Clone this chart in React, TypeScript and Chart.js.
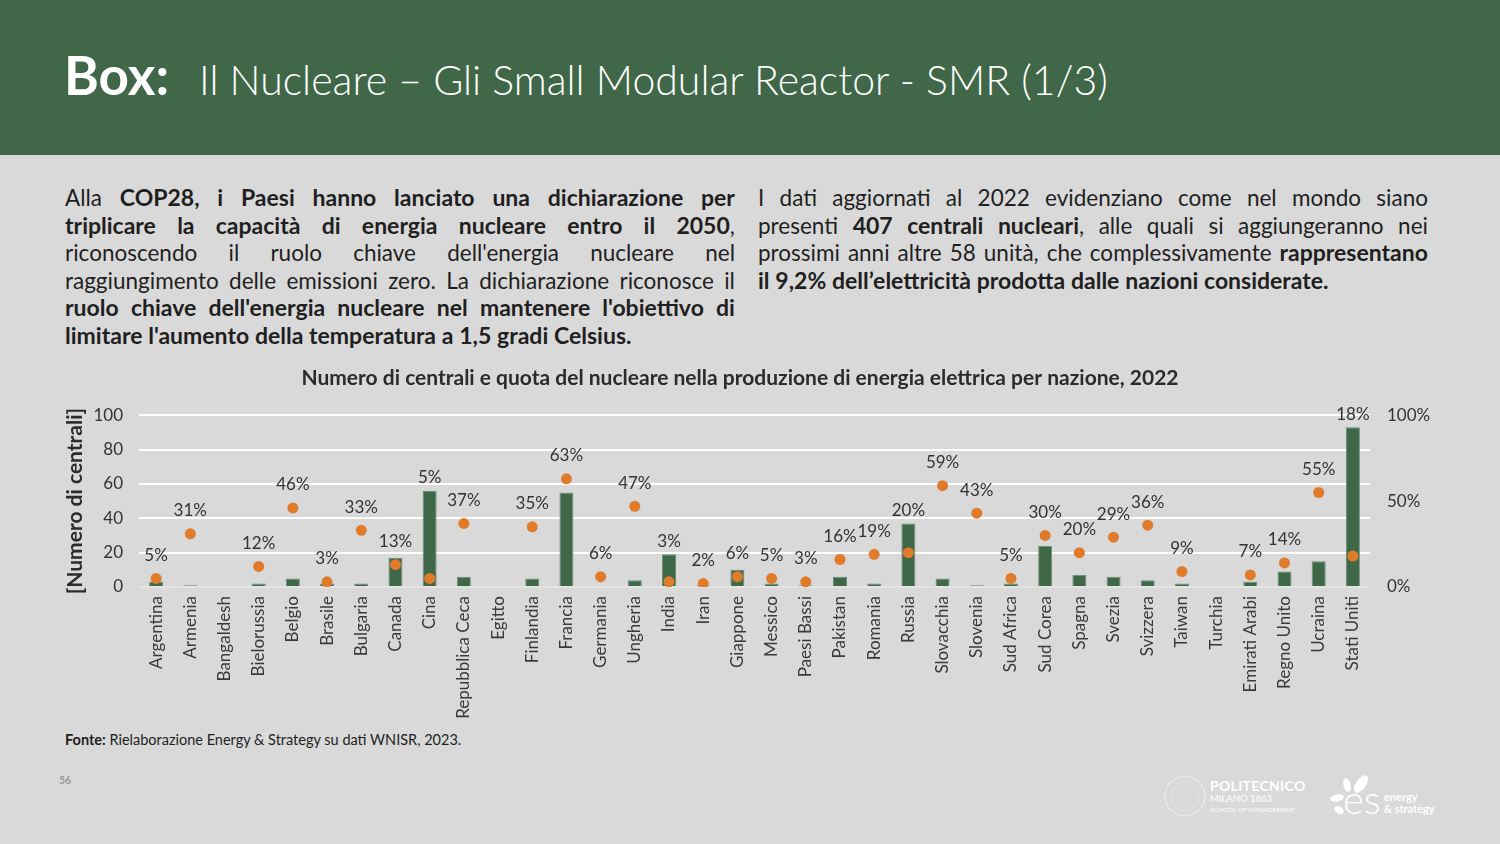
import React, { useEffect, useRef } from "react";
import { Chart, registerables } from "chart.js";

Chart.register(...registerables);

const countries: string[] = [
  "Argentina", "Armenia", "Bangaldesh", "Bielorussia", "Belgio", "Brasile", "Bulgaria", "Canada", "Cina",
  "Repubblica Ceca", "Egitto", "Finlandia", "Francia", "Germania", "Ungheria", "India", "Iran", "Giappone",
  "Messico", "Paesi Bassi", "Pakistan", "Romania", "Russia", "Slovacchia", "Slovenia", "Sud Africa",
  "Sud Corea", "Spagna", "Svezia", "Svizzera", "Taiwan", "Turchia", "Emirati Arabi", "Regno Unito",
  "Ucraina", "Stati Uniti",
];

const reactors: number[] = [
  3, 1, 0, 2, 5, 2, 2, 17, 56,
  6, 0, 5, 55, 0, 4, 19, 1, 10,
  2, 1, 6, 2, 37, 5, 1, 2,
  24, 7, 6, 4, 2, 0, 3, 9,
  15, 93,
];

const nuclearShare: (number | null)[] = [
  5, 31, null, 12, 46, 3, 33, 13, 5,
  37, null, 35, 63, 6, 47, 3, 2, 6,
  5, 3, 16, 19, 20, 59, 43, 5,
  30, 20, 29, 36, 9, null, 7, 14,
  55, 18,
];

const leftTicks: number[] = [0, 20, 40, 60, 80, 100];
const rightTicks: number[] = [0, 50, 100];

// "*" toggles bold
const leftLines: string[] = [
  "Alla *COP28, i Paesi hanno lanciato una dichiarazione per*",
  "*triplicare la capacità di energia nucleare entro il 2050*,",
  "riconoscendo il ruolo chiave dell'energia nucleare nel",
  "raggiungimento delle emissioni zero. La dichiarazione riconosce il",
  "*ruolo chiave dell'energia nucleare nel mantenere l'obiettivo di*",
  "*limitare l'aumento della temperatura a 1,5 gradi Celsius.*",
];
const rightLines: string[] = [
  "I dati aggiornati al 2022 evidenziano come nel mondo siano",
  "presenti *407 centrali nucleari*, alle quali si aggiungeranno nei",
  "prossimi anni altre 58 unità, che complessivamente *rappresentano*",
  "*il 9,2% dell’elettricità prodotta dalle nazioni considerate.*",
];

const GREEN = "#3f6849";
const ORANGE = "#e07b2c";
const TEXT = "#2b2b2b";
const FONT = "Lato, 'Open Sans', sans-serif";

const shareLabels = {
  id: "shareLabels",
  afterDatasetsDraw(chart: any) {
    const ctx = chart.ctx;
    const barMeta = chart.getDatasetMeta(0);
    const dotMeta = chart.getDatasetMeta(1);
    ctx.save();
    ctx.font = `17px ${FONT}`;
    ctx.fillStyle = "#333333";
    ctx.textAlign = "center";
    ctx.textBaseline = "middle";
    nuclearShare.forEach((v, i) => {
      if (v == null) return;
      const pt = dotMeta.data[i];
      const bar = barMeta.data[i];
      let y = pt.y - 23;
      if (reactors[i] > v) y = Math.min(y, bar.y - 13);
      ctx.fillText(`${v}%`, pt.x, y);
    });
    ctx.restore();
  },
};

function ChartBox() {
  const ref = useRef<HTMLCanvasElement | null>(null);
  useEffect(() => {
    if (!ref.current) return;
    const chart = new Chart(ref.current, {
      type: "bar",
      data: {
        labels: countries,
        datasets: [
          {
            type: "bar",
            label: "Numero di centrali",
            data: reactors,
            backgroundColor: GREEN,
            borderColor: "#6e8e75",
            borderWidth: 1,
            barPercentage: 0.41,
            categoryPercentage: 1,
            yAxisID: "y",
            order: 2,
          },
          {
            type: "line",
            label: "Quota nucleare",
            data: nuclearShare,
            showLine: false,
            pointRadius: 5.5,
            pointBackgroundColor: ORANGE,
            pointBorderWidth: 0,
            borderColor: ORANGE,
            yAxisID: "y1",
            order: 1,
          } as any,
        ],
      },
      options: {
        animation: false,
        responsive: true,
        maintainAspectRatio: false,
        layout: { padding: 0 },
        plugins: {
          legend: { display: false },
          tooltip: { enabled: false },
          title: {
            display: true,
            text: "Numero di centrali e quota del nucleare nella produzione di energia elettrica per nazione, 2022",
            color: TEXT,
            font: { family: FONT, size: 21, weight: "bold" },
            padding: { top: 4, bottom: 24 },
          },
        },
        scales: {
          x: {
            grid: { display: false, drawTicks: false },
            border: { display: false },
            ticks: {
              color: "#3a3a3a",
              font: { family: FONT, size: 17 },
              minRotation: 90,
              maxRotation: 90,
              autoSkip: false,
              padding: 9,
            },
            afterFit: (s: any) => { s.height = 137; },
          },
          y: {
            position: "left",
            min: 0,
            max: 100,
            afterBuildTicks: (s: any) => { s.ticks = leftTicks.map((v) => ({ value: v })); },
            grid: {
              color: (c: any) => (c.tick && c.tick.value === 0 ? "#e4e4e4" : "#ffffff"),
              lineWidth: 2,
              drawTicks: false,
            },
            border: { display: false },
            ticks: { color: "#333333", font: { family: FONT, size: 17 }, padding: 16 },
            title: {
              display: true,
              text: "[Numero di centrali]",
              color: TEXT,
              font: { family: FONT, size: 21, weight: "bold" },
              padding: { top: 18, bottom: 0 },
            },
            afterFit: (s: any) => { s.width = 94; },
          },
          y1: {
            position: "right",
            min: 0,
            max: 100,
            afterBuildTicks: (s: any) => { s.ticks = rightTicks.map((v) => ({ value: v })); },
            grid: { display: false, drawTicks: false },
            border: { display: false },
            ticks: {
              color: "#333333",
              font: { family: FONT, size: 17 },
              padding: 17,
              callback: (v: any) => `${v}%`,
            },
            afterFit: (s: any) => { s.width = 65; },
          },
        },
      },
      plugins: [shareLabels],
    });
    return () => chart.destroy();
  }, []);
  return <canvas ref={ref} />;
}

function parseWords(line: string) {
  let bold = false;
  return line.split(" ").filter(Boolean).map((word) => {
    const parts = word.split("*");
    const segs: { t: string; b: boolean }[] = [];
    parts.forEach((p, i) => {
      if (i > 0) bold = !bold;
      if (p) segs.push({ t: p, b: bold });
    });
    return segs;
  });
}

function TextLine({ line, last }: { line: string; last: boolean }) {
  const words = parseWords(line);
  const render = (segs: { t: string; b: boolean }[], k: number, trailing: boolean) => (
    <span key={k}>
      {segs.map((s, j) => (
        <span key={j} style={s.b ? { fontWeight: 700, fontSize: 23 } : { fontWeight: 400 }}>{s.t}</span>
      ))}
      {trailing ? " " : ""}
    </span>
  );
  if (last) {
    return (
      <div style={{ height: 27.5, whiteSpace: "nowrap" }}>
        {words.map((w, i) => render(w, i, i < words.length - 1))}
      </div>
    );
  }
  return (
    <div style={{ height: 27.5, display: "flex", justifyContent: "space-between", alignItems: "baseline", whiteSpace: "nowrap" }}>
      {words.map((w, i) => render(w, i, false))}
    </div>
  );
}

function Paragraph({ lines, left }: { lines: string[]; left: number }) {
  return (
    <div style={{ position: "absolute", left, top: 184, width: 670, fontSize: 22.5, lineHeight: "27.5px", color: "#1f1f1f" }}>
      {lines.map((l, i) => (
        <TextLine key={i} line={l} last={i === lines.length - 1} />
      ))}
    </div>
  );
}

function Logos() {
  return (
    <div style={{ position: "absolute", left: 1163, top: 773, width: 290, height: 50 }}>
      <svg width={46} height={46} style={{ position: "absolute", left: 0, top: 1 }}>
        <circle cx={22} cy={22} r={20} fill="none" stroke="#ececec" strokeWidth={1.2} />
        <circle cx={22} cy={22} r={14} fill="none" stroke="#e8e8e8" strokeWidth={1} strokeDasharray="2 2" />
      </svg>
      <div style={{ position: "absolute", left: 47, top: 6, color: "#fff", fontFamily: FONT, fontWeight: 700, fontSize: 14, lineHeight: "14px", letterSpacing: 0.3 }}>
        POLITECNICO
      </div>
      <div style={{ position: "absolute", left: 47, top: 21, color: "#fff", fontFamily: FONT, fontSize: 9.5, lineHeight: "10px" }}>
        MILANO 1863
      </div>
      <div style={{ position: "absolute", left: 47, top: 33, color: "#fff", fontFamily: FONT, fontSize: 6.5, lineHeight: "7px" }}>
        SCHOOL OF MANAGEMENT
      </div>
      <svg width={50} height={46} style={{ position: "absolute", left: 165, top: 0 }}>
        <ellipse cx={33} cy={11} rx={5} ry={10} transform="rotate(35 33 11)" fill="#fff" />
        <ellipse cx={19} cy={12} rx={3.5} ry={7} transform="rotate(-15 19 12)" fill="#fff" />
        <ellipse cx={9} cy={25} rx={7} ry={3.5} transform="rotate(-10 9 25)" fill="#fff" />
        <ellipse cx={11} cy={37} rx={5} ry={3.5} transform="rotate(30 11 37)" fill="#fff" />
      </svg>
      <div style={{ position: "absolute", left: 180, top: 6, color: "#fff", fontFamily: FONT, fontSize: 40, lineHeight: "40px", fontWeight: 300 }}>
        es
      </div>
      <div style={{ position: "absolute", left: 221, top: 18, color: "#fff", fontFamily: FONT, fontWeight: 700, fontSize: 11, lineHeight: "12px" }}>
        energy
        <br />& strategy
      </div>
    </div>
  );
}

export default function App() {
  return (
    <div style={{ position: "absolute", left: 0, top: 0, width: 1500, height: 844, background: "#d9d9d9", overflow: "hidden", fontFamily: FONT }}>
      <div style={{ position: "absolute", left: 0, top: 0, width: 1500, height: 155, background: "#3f6748" }}>
        <div style={{ position: "absolute", left: 64, top: 45, color: "#fff", whiteSpace: "nowrap", lineHeight: "60px" }}>
          <span style={{ fontSize: 53, fontWeight: 700 }}>Box:</span>
          <span style={{ fontSize: 41, fontWeight: 300, marginLeft: 30, fontFamily: "'Lato Light', Lato, sans-serif" }}>
            Il Nucleare – Gli Small Modular Reactor - SMR (1/3)
          </span>
        </div>
      </div>
      <Paragraph lines={leftLines} left={65} />
      <Paragraph lines={rightLines} left={758} />
      <div style={{ position: "absolute", left: 45, top: 362, width: 1390, height: 362 }}>
        <ChartBox />
      </div>
      <div style={{ position: "absolute", left: 65, top: 731, fontSize: 14.5, color: "#1f1f1f", whiteSpace: "nowrap" }}>
        <b>Fonte:</b> Rielaborazione Energy &amp; Strategy su dati WNISR, 2023.
      </div>
      <div style={{ position: "absolute", left: 59, top: 774, fontSize: 10.5, fontWeight: 700, color: "#9a9a9a" }}>56</div>
      <Logos />
    </div>
  );
}
